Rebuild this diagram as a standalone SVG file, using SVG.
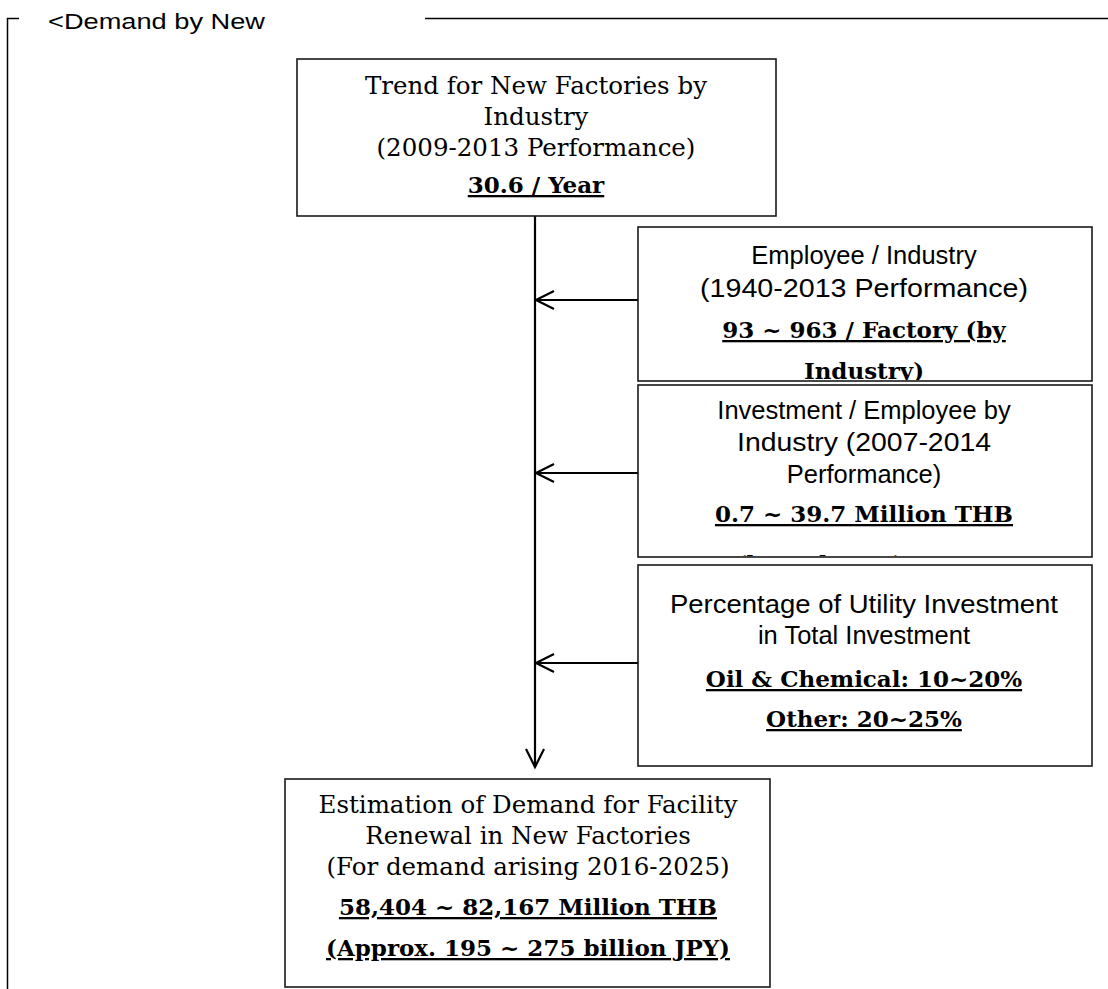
<svg xmlns="http://www.w3.org/2000/svg" width="1108" height="989" viewBox="0 0 1108 989">
<style>
.box{fill:#fff;stroke:#1a1a1a;stroke-width:1.6}
.frame{fill:none;stroke:#000;stroke-width:1.5}
.conn{fill:none;stroke:#000;stroke-width:2.2}
.serif{font-family:"DejaVu Serif","Liberation Serif",serif;font-size:24.5px;fill:#000;text-anchor:middle}
.sans{font-family:"Liberation Sans",Arial,sans-serif;font-size:25.5px;fill:#000;text-anchor:middle}
.key{font-family:"DejaVu Serif","Liberation Serif",serif;font-size:23px;font-weight:bold;fill:#000;text-anchor:middle;text-decoration:underline}
.title{font-family:"Liberation Sans",Arial,sans-serif;font-size:22px;fill:#000}
</style>
<defs>
<marker id="arr" markerUnits="userSpaceOnUse" markerWidth="24" markerHeight="24" viewBox="0 0 24 24" refX="21" refY="12" orient="auto">
<path d="M3,3 L21,12 L3,21" fill="none" stroke="#000" stroke-width="2.2"/>
</marker>
<clipPath id="c1"><rect x="639" y="228" width="452" height="152"/></clipPath>
<clipPath id="c2"><rect x="639" y="386" width="452" height="170"/></clipPath>
</defs>
<rect width="1108" height="989" fill="#fff"/>
<g id="frame">
<path class="frame" d="M7.5,989 V18.5 H19"/>
<path class="frame" d="M425,18.5 H1108"/>
<text class="title" x="48" y="29" textLength="217" lengthAdjust="spacingAndGlyphs">&lt;Demand by New</text>
</g>
<g id="connectors">
<path class="conn" d="M535,216 V767" marker-end="url(#arr)"/>
<path class="conn" d="M638,300 H536" marker-end="url(#arr)"/>
<path class="conn" d="M638,473 H536" marker-end="url(#arr)"/>
<path class="conn" d="M638,663 H536" marker-end="url(#arr)"/>
</g>
<g id="node-trend">
<rect class="box" x="297" y="59" width="479" height="157"/>
<text class="serif" x="536" y="94">Trend for New Factories by</text>
<text class="serif" x="536" y="125">Industry</text>
<text class="serif" x="536" y="156">(2009-2013 Performance)</text>
<text class="key" x="536" y="193">30.6 / Year</text>
</g>
<g id="node-employee">
<rect class="box" x="638" y="227" width="454" height="154"/>
<text class="sans" x="864" y="264">Employee / Industry</text>
<text class="sans" x="864" y="297" textLength="328" lengthAdjust="spacingAndGlyphs">(1940-2013 Performance)</text>
<g clip-path="url(#c1)">
<text class="key" x="864" y="338">93 ~ 963 / Factory (by </text>
<text class="key" x="864" y="379">Industry)</text>
</g>
</g>
<g id="node-investment">
<rect class="box" x="638" y="385" width="454" height="172"/>
<text class="sans" x="864" y="419">Investment / Employee by</text>
<text class="sans" x="864" y="451" textLength="254" lengthAdjust="spacingAndGlyphs">Industry (2007-2014</text>
<text class="sans" x="864" y="483">Performance)</text>
<g clip-path="url(#c2)">
<text class="key" x="864" y="522">0.7 ~ 39.7 Million THB</text>
<text class="key" x="820" y="572">(by Industry)</text>
</g>
</g>
<g id="node-utility">
<rect class="box" x="638" y="565" width="454" height="201"/>
<text class="sans" x="864" y="613" textLength="388" lengthAdjust="spacingAndGlyphs">Percentage of Utility Investment</text>
<text class="sans" x="864" y="644">in Total Investment</text>
<text class="key" x="864" y="687">Oil &amp; Chemical: 10~20%</text>
<text class="key" x="864" y="727">Other: 20~25%</text>
</g>
<g id="node-estimation">
<rect class="box" x="285" y="779" width="485" height="208"/>
<text class="serif" x="528" y="813">Estimation of Demand for Facility</text>
<text class="serif" x="528" y="844">Renewal in New Factories</text>
<text class="serif" x="528" y="875">(For demand arising 2016-2025)</text>
<text class="key" x="528" y="915">58,404 ~ 82,167 Million THB</text>
<text class="key" x="528" y="956">(Approx. 195 ~ 275 billion JPY)</text>
</g>
</svg>
